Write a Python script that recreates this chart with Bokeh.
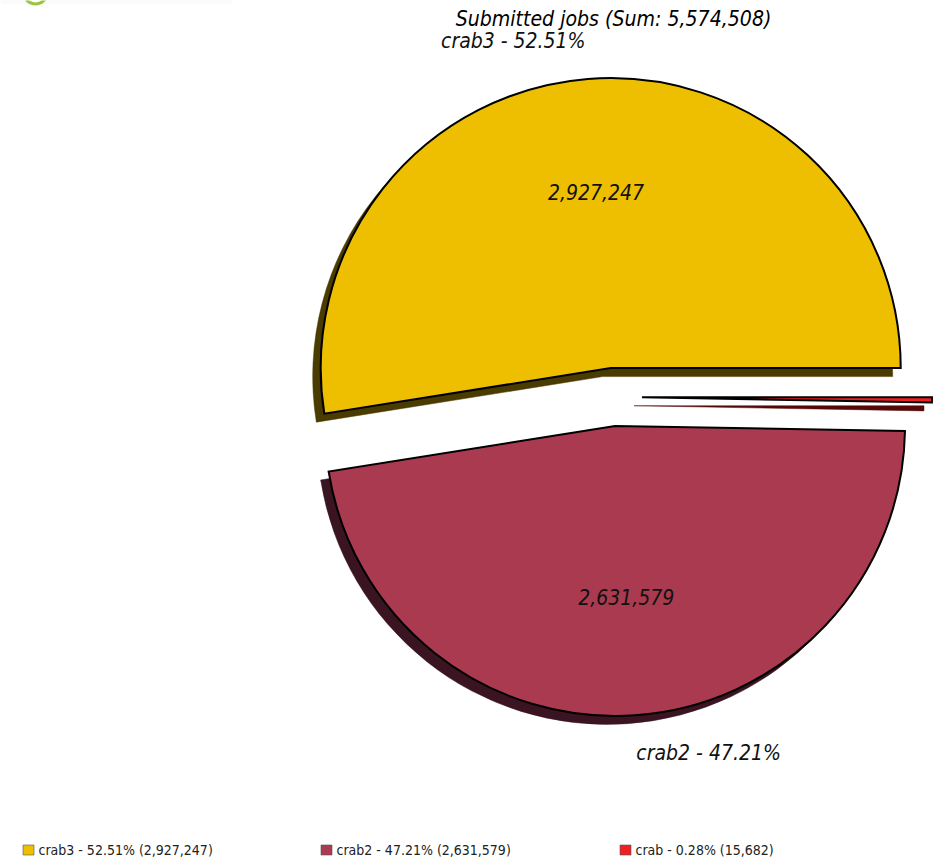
import math
from bokeh.core.properties import value
from bokeh.embed import file_html
from bokeh.models import ColumnDataSource, Range1d
from bokeh.plotting import figure
from bokeh.resources import INLINE

# Job counts per submission tool
names = ["crab3", "crab2", "crab"]
jobs = [2927247, 2631579, 15682]
percent_labels = ["52.51%", "47.21%", "0.28%"]
colors = ["#EEBF00", "#AA3A4F", "#F01E20"]
shadow_colors = ["#4A3B00", "#3A1420", "#560808"]
title_text = "Submitted jobs (Sum: 5,574,508)"
# Slices whose name and count are written on the pie
labelled = ["crab3", "crab2"]

WIDTH, HEIGHT = 936, 860
RADIUS_PX = 290.0
CENTER_PX = (612.5, 396.5)
EXPLODE = 0.1
SHADOW = (-8 / RADIUS_PX, -8.5 / RADIUS_PX)
FONT = value("DejaVu Sans Condensed")
TEXT_SIZE = "21px"


def px(x, y):
    """Page pixels to pie units (pie radius is 1)."""
    return (x - CENTER_PX[0]) / RADIUS_PX, (CENTER_PX[1] - y) / RADIUS_PX


x0, y_top = px(0, 0)
x1, y_bottom = px(WIDTH, HEIGHT)
p = figure(
    width=WIDTH, height=HEIGHT,
    x_range=Range1d(x0, x1), y_range=Range1d(y_bottom, y_top),
    output_backend="svg", toolbar_location=None, min_border=0,
    outline_line_color=None,
)
p.axis.visible = False
p.grid.visible = False

# Slice geometry in the order the slices are drawn, starting at 3 o'clock
total = sum(jobs)
starts, ends, mids, cx, cy = [], [], [], [], []
running = 0.0
for count in jobs:
    a0 = running / total * 2 * math.pi
    running += count
    a1 = running / total * 2 * math.pi
    mid = (a0 + a1) / 2
    starts.append(a0)
    ends.append(a1)
    mids.append(mid)
    cx.append(EXPLODE * math.cos(mid))
    cy.append(EXPLODE * math.sin(mid))

shadow = ColumnDataSource(dict(
    x=[v + SHADOW[0] for v in cx], y=[v + SHADOW[1] for v in cy],
    start=starts, end=ends, color=shadow_colors,
))
p.wedge("x", "y", radius=1, start_angle="start", end_angle="end", source=shadow,
        fill_color="color", line_color="color", line_width=0.5)

slices = ColumnDataSource(dict(x=cx, y=cy, start=starts, end=ends, color=colors))
p.wedge("x", "y", radius=1, start_angle="start", end_angle="end", source=slices,
        fill_color="color", line_color="black", line_width=2, line_join="miter")

# Names outside the pie, counts inside it
for i, name in enumerate(names):
    if name not in labelled:
        continue
    c, s = math.cos(mids[i]), math.sin(mids[i])
    p.text([cx[i] + 1.1 * c], [cy[i] + 1.1 * s], text=[f"{name} - {percent_labels[i]}"],
           text_font=FONT, text_font_style="italic", text_font_size=TEXT_SIZE,
           text_color="#111111", text_align="left" if c > 0 else "right",
           text_baseline="bottom" if s > 0 else "top",
           x_offset=-1 if c > 0 else 0, y_offset=3 if s > 0 else -3)
    p.text([cx[i] + 0.6 * c], [cy[i] + 0.6 * s], text=[f"{jobs[i]:,}"],
           text_font=FONT, text_font_style="italic", text_font_size=TEXT_SIZE,
           text_color="#111111", text_align="center", text_baseline="middle",
           x_offset=-1, y_offset=-2.5)

tx, ty = px(613, 18)
p.text([tx], [ty], text=[title_text], text_font=FONT, text_font_style="italic",
       text_font_size="21.1px", text_color="black", text_align="center",
       text_baseline="middle")

# Legend row along the bottom edge
legend_x = [22, 320, 619]
for lx, name, pct, count, color in zip(legend_x, names, percent_labels, jobs, colors):
    sx, sy = px(lx + 6, 849.5)
    p.rect([sx], [sy], width=11 / RADIUS_PX, height=10 / RADIUS_PX, fill_color=color,
           line_color="#555555", line_width=0.6)
    tx, ty = px(lx + 16, 849.5)
    p.text([tx], [ty], text=[f"{name} - {pct} ({count:,})"], text_font=FONT,
           text_font_size="14px", text_color="#222222", text_align="left",
           text_baseline="middle")

# Header strip with the edge of the site logo at the top left corner
bx, by = px(116, 1.5)
p.rect([bx], [by], width=232 / RADIUS_PX, height=4 / RADIUS_PX, fill_color="#FAFAFA",
       line_color=None)
lx, ly = px(35, -8)
p.circle([lx], [ly], radius=11.5 / RADIUS_PX, fill_color="white", line_color="#9CC43C",
         line_width=3)

open("out.html", "w").write(file_html(p, INLINE))
